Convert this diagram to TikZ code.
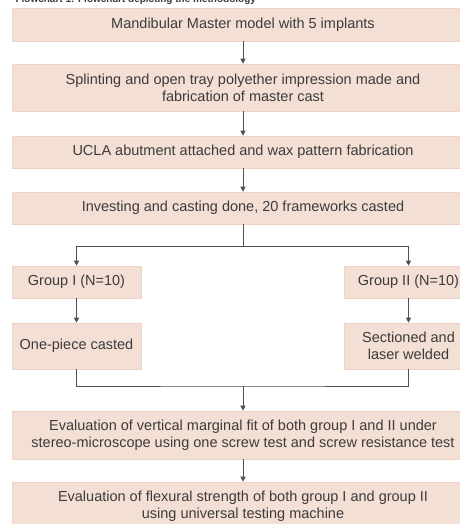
\documentclass[tikz,border=0pt]{standalone}
\usepackage{fontspec}
\setmainfont{Liberation Sans}
\usetikzlibrary{arrows.meta}
\definecolor{boxfill}{HTML}{F4DFD4}
\definecolor{boxline}{HTML}{ECD3C6}
\definecolor{txt}{HTML}{3C3C3C}
\definecolor{conn}{HTML}{505050}
\tikzset{
  flowbox/.style={rectangle, fill=boxfill, draw=boxline, line width=0.6pt, inner sep=0pt,
    align=center, text=txt, font=\fontsize{14.5}{17}\selectfont},
  wide/.style={flowbox, minimum width=462pt},
  narrow/.style={flowbox, minimum width=129pt},
  conline/.style={draw=conn, line width=1pt},
  conarrow/.style={conline, -{Triangle[length=5pt,width=5pt]}},
}
\begin{document}
\begin{tikzpicture}[x=1pt,y=-1pt]
\useasboundingbox[fill=white] (0,0) rectangle (459,524);
\node[anchor=base west, text=txt, font=\fontsize{10}{12}\selectfont\bfseries] (title) at (12,2.5) {Flowchart 1: Flowchart depicting the methodology};
\node[wide, minimum height=33pt] (b1) at (243,24.5) {Mandibular Master model with 5 implants};
\node[wide, minimum height=47pt] (b2) at (243,87.5) {Splinting and open tray polyether impression made and\\fabrication of master cast};
\node[wide, minimum height=32pt] (b3) at (243,152) {UCLA abutment attached and wax pattern fabrication};
\node[wide, minimum height=32pt] (b4) at (243,208) {Investing and casting done, 20 frameworks casted};
\node[narrow, minimum height=32pt] (g1) at (76.5,282) {Group I (N=10)};
\node[narrow, minimum height=32pt] (g2) at (408.5,282) {Group II (N=10)};
\node[narrow, minimum height=46pt] (r1) at (76.5,346) {One-piece casted};
\node[narrow, minimum height=46pt] (r2) at (408.5,346) {Sectioned and\\laser welded};
\node[wide, minimum height=48pt] (e1) at (243,435) {Evaluation of vertical marginal fit of both group I and II under\\stereo-microscope using one screw test and screw resistance test};
\node[wide, minimum height=48pt] (e2) at (243,506) {Evaluation of flexural strength of both group I and group II\\using universal testing machine};
\coordinate (split) at (243,246);
\coordinate (merge) at (243,386);
\draw[conarrow] (b1) -- (b2);
\draw[conarrow] (b2) -- (b3);
\draw[conarrow] (b3) -- (b4);
\draw[conline] (b4) -- (split);
\draw[conarrow] (split) -| (g1);
\draw[conarrow] (split) -| (g2);
\draw[conarrow] (g1) -- (r1);
\draw[conarrow] (g2) -- (r2);
\draw[conline] (r1) |- (merge) -| (r2);
\draw[conarrow] (merge) -- (e1);
\draw[conarrow] (e1) -- (e2);
\end{tikzpicture}
\end{document}
